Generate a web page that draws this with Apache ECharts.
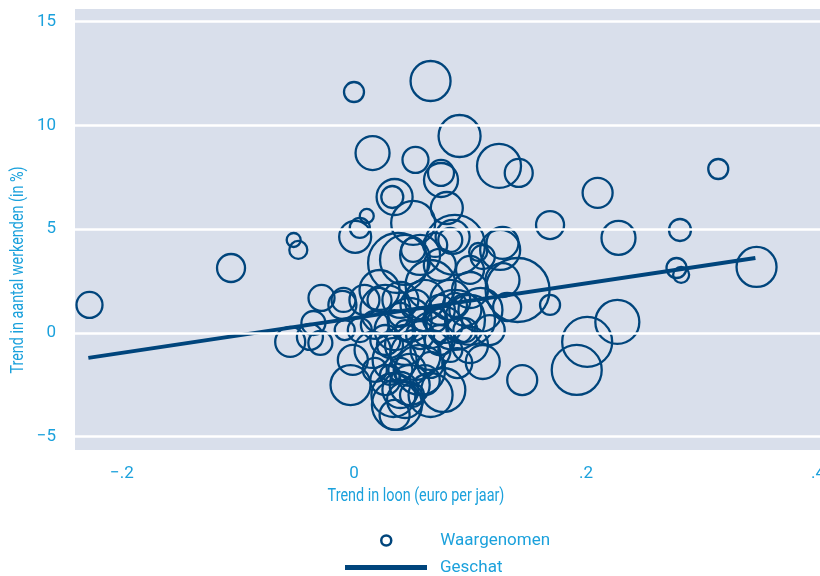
<!DOCTYPE html>
<html>
<head>
<meta charset="utf-8">
<script src="https://cdn.jsdelivr.net/npm/echarts@6/dist/echarts.min.js"></script>
<style>
html,body{margin:0;padding:0;background:#fff;}
#chart{width:820px;height:576px;}
</style>
</head>
<body>
<div id="chart"></div>
<script>
// Observed: trend in wage (x), trend in employment % (y), weight (bubble size)
const obsX = [-0.228,-0.106,-0.052,-0.048,-0.055,0.000,0.066,0.091,0.016,0.053,0.075,0.075,0.125,0.142,0.314,0.210,0.169,0.228,0.281,0.278,0.282,0.347,0.227,0.201,0.192,0.145,0.169,
 0.035,0.033,0.080,0.011,0.001,0.005,0.051,0.038,0.044,0.051,0.057,0.070,0.083,0.087,0.085,0.107,0.111,0.128,0.126,
 -0.028,-0.009,-0.035,-0.038,-0.029,-0.010,0.009,0.022,0.027,0.040,0.048,0.061,0.066,0.074,0.083,0.091,0.100,0.109,0.117,0.128,0.141,0.132,0.100,0.035,0.066,0.087,
 -0.001,-0.003,0.016,0.027,0.035,0.044,0.053,0.066,0.074,0.077,0.089,0.111,0.100,0.096,0.037,0.034,0.040,0.027,0.048,0.066,0.057,0.035,0.044,0.018,0.061,0.050,0.031,0.040,0.005,0.018,-0.008,
 0.040,0.053,0.070,0.078,0.057,0.044,0.087,0.096,0.031,0.066,0.083,0.048,0.022,0.100,0.074];
const obsY = [1.35,3.13,4.48,4.00,-0.43,11.61,12.14,9.49,8.67,8.34,7.71,7.37,8.05,7.71,7.90,6.75,5.20,4.58,4.96,3.13,2.80,3.18,0.53,-0.43,-1.78,-2.27,1.35,
 6.55,6.55,6.02,5.64,4.63,5.06,5.30,3.37,3.52,4.00,3.76,4.24,4.48,4.24,4.63,3.90,3.66,4.34,4.00,
 1.69,1.59,0.48,-0.19,-0.48,1.35,1.59,2.07,1.11,1.59,0.63,1.59,2.31,1.11,1.59,0.14,2.07,1.11,0.14,2.55,2.07,1.25,0.63,0.14,0.14,0.63,
 -1.30,-2.51,-0.82,-0.34,-1.30,-0.58,-1.06,-0.82,-0.34,-2.75,-1.45,-1.40,-0.58,0.14,-3.47,-2.99,-2.75,-2.27,-2.51,-2.99,-1.78,-3.95,-3.23,-1.78,-2.27,-2.99,-2.02,-1.78,0.14,0.39,0.14,
 0.87,1.35,0.63,0.39,-0.10,0.14,1.35,1.11,-0.58,-1.54,-0.82,-1.78,1.59,3.04,3.28];
const obsW = [169,196,49,81,225,100,400,441,289,169,169,289,484,196,100,225,196,289,121,100,64,400,484,625,625,225,100,
 324,121,256,49,256,100,484,900,625,144,400,144,144,900,289,81,144,256,400,
 169,144,144,169,144,196,225,400,625,324,484,400,625,225,400,169,324,484,225,289,1024,196,625,400,324,900,
 225,400,324,225,484,400,625,400,225,484,225,289,324,144,625,484,324,225,400,484,625,225,324,144,225,144,100,144,144,196,100,
 144,225,144,324,196,100,144,256,169,169,144,256,144,196,256];
// Estimated (fitted) line endpoints
const fitX = [-0.229, 0.346];
const fitY = [-1.20, 3.61];
// Axis ticks
const xTicks = [-0.2, 0, 0.2, 0.4];
const yTicks = [-5, 0, 5, 10, 15];
const seriesNames = ['Waargenomen', 'Geschat'];
const xTitle = 'Trend in loon (euro per jaar)';
const yTitle = 'Trend in aantal werkenden (in %)';

const NAVY = '#00457c';
const CYAN = '#1ba1dc';
const FONT = "Roboto, 'Noto Sans', sans-serif";

const obsData = obsX.map((x, i) => [x, obsY[i], obsW[i]]);
const fitData = fitX.map((x, i) => [x, fitY[i]]);

function fmtX(v) {
  if (Math.abs(v) < 1e-9) return '0';
  const s = Math.abs(v).toFixed(1).replace(/^0/, '');
  return (v < 0 ? '\u2212' : '') + s;
}
function fmtY(v) {
  return (v < 0 ? '\u2212' : '') + Math.abs(v);
}

const chart = echarts.init(document.getElementById('chart'), null, {renderer: 'canvas'});
chart.setOption({
  animation: false,
  backgroundColor: '#ffffff',
  grid: {left: 75, right: 0, top: 9, bottom: 126, show: true, backgroundColor: '#d9dfeb', borderWidth: 0,
         containLabel: false, outerBoundsMode: 'none'},
  xAxis: {
    type: 'value', min: -0.2405, max: 0.4017,
    axisLine: {show: false}, axisTick: {show: false}, splitLine: {show: false},
    axisLabel: {customValues: xTicks, formatter: fmtX, color: CYAN, fontFamily: FONT, fontSize: 17, margin: 15, showMaxLabel: true, hideOverlap: false}
  },
  yAxis: {
    type: 'value', min: -5.64, max: 15.61,
    axisLine: {show: false}, axisTick: {show: false}, splitLine: {show: false},
    axisLabel: {customValues: yTicks, formatter: fmtY, color: CYAN, fontFamily: FONT, fontSize: 17, margin: 19}
  },
  legend: [
    {
      orient: 'vertical', left: 380, top: 532, padding: 0, itemWidth: 82, itemHeight: 10,
      textStyle: {color: CYAN, fontFamily: FONT, fontSize: 17, padding: [0, 0, 0, 8]},
      data: [{name: seriesNames[0], icon: 'circle', itemStyle: {color: '#ffffff', borderColor: NAVY, borderWidth: 2.5}}],
      selectedMode: false
    },
    {
      orient: 'vertical', left: 345, top: 559, padding: 0, itemWidth: 82, itemHeight: 5,
      textStyle: {color: CYAN, fontFamily: FONT, fontSize: 17, padding: [0, 0, 0, 8]},
      data: [{name: seriesNames[1], icon: 'rect', itemStyle: {color: NAVY}}],
      selectedMode: false
    }
  ],
  graphic: [
    {type: 'text', x: 416, y: 496, scaleX: 0.8, style: {text: xTitle, fill: CYAN, font: '18px ' + FONT, textAlign: 'center', textVerticalAlign: 'middle'}},
    {type: 'text', x: 18, y: 270, rotation: Math.PI / 2, scaleX: 0.8, style: {text: yTitle, fill: CYAN, font: '18px ' + FONT, textAlign: 'center', textVerticalAlign: 'middle'}}
  ],
  series: [
    {
      name: '__grid', type: 'line', data: [], z: 1, silent: true,
      markLine: {
        silent: true, symbol: ['none', 'none'], label: {show: false},
        lineStyle: {color: '#ffffff', width: 2.5, type: 'solid'},
        data: yTicks.map(v => ({yAxis: v}))
      }
    },
    {
      name: seriesNames[0], type: 'scatter', z: 2,
      data: obsData,
      symbol: 'circle',
      symbolSize: v => 2 * Math.sqrt(v[2]),
      itemStyle: {color: 'rgba(0,0,0,0)', borderColor: NAVY, borderWidth: 2.3, opacity: 1},
      emphasis: {disabled: true}
    },
    {
      name: seriesNames[1], type: 'line', z: 3,
      data: fitData, symbol: 'none',
      lineStyle: {color: NAVY, width: 4},
      itemStyle: {color: NAVY}
    }
  ]
});
</script>
</body>
</html>
